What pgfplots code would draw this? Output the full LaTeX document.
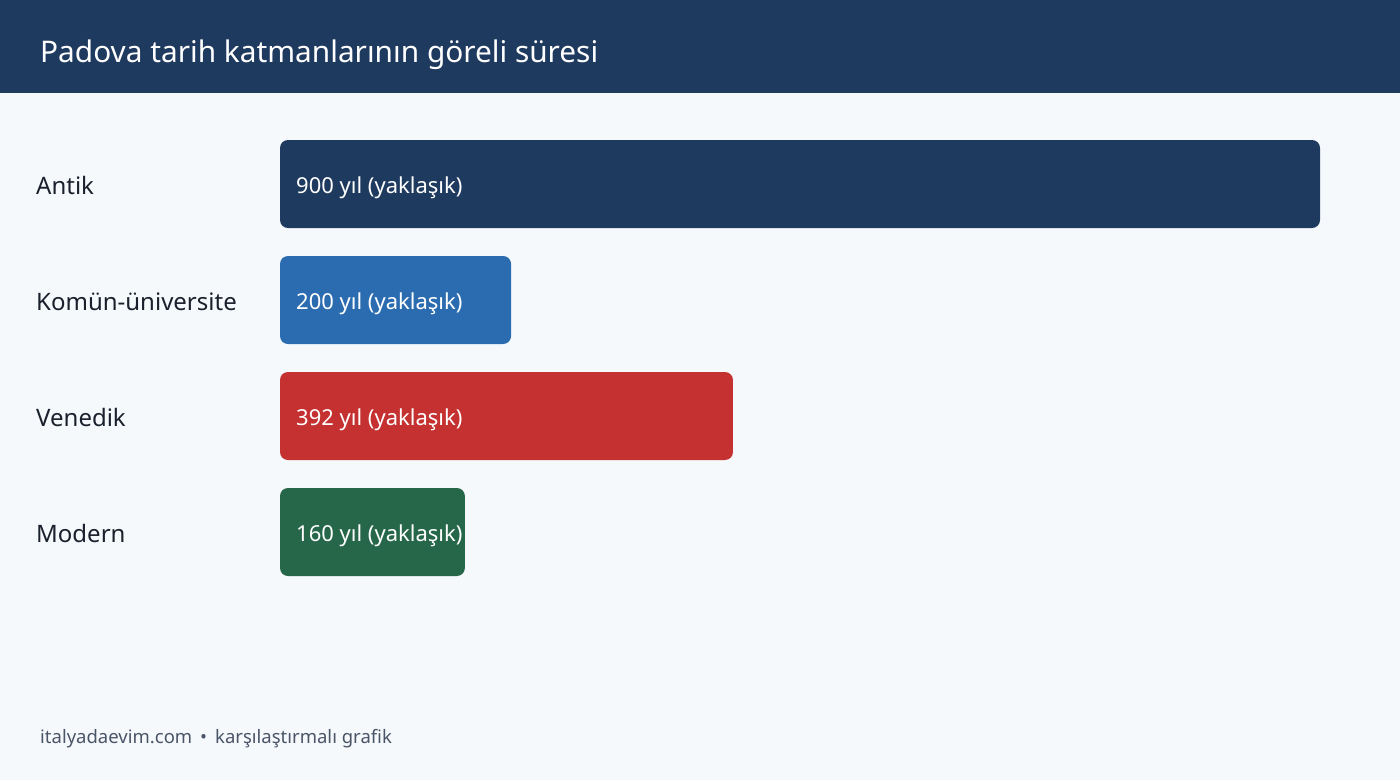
\documentclass[border=0pt]{standalone}
\usepackage{pgfplots}
\pgfplotsset{compat=1.18}
\usepackage{fontspec}
\setmainfont{Noto Sans}
\definecolor{navy}{HTML}{1F3A5F}
\definecolor{bgc}{HTML}{F5F9FC}
\definecolor{barblue}{HTML}{2B6CB0}
\definecolor{barred}{HTML}{C53030}
\definecolor{bargreen}{HTML}{276749}
\definecolor{txt}{HTML}{1A202C}
\definecolor{foot}{HTML}{4A5568}
\begin{document}
\begin{tikzpicture}[lbl/.style = {anchor = base west, inner sep = 0pt, yshift = -9pt}]
% page background and header band
\fill[bgc] (0pt,0pt) rectangle (1400pt,780pt);
\fill[navy] (0pt,687pt) rectangle (1400pt,780pt);
\node[anchor=base west, inner sep=0pt, text=white, font=\fontsize{29.8}{36}\selectfont]
  at (40pt,717pt) {Padova tarih katmanlarının göreli süresi};
\begin{axis}[
	at = {(280pt,190pt)},
	anchor = south west,
	width = 1040pt,
	height = 464pt,
	scale only axis,
	xmin = 0,
	xmax = 900,
	ymin = -0.5,
	ymax = 3.5,
	y dir = reverse,
	hide axis,
	clip = false,
	xbar,
	bar width = 88pt,
	bar shift = 0pt,
	every axis plot/.append style = {draw = none, rounded corners = 8pt},
]
\addplot[fill = navy] coordinates {(900, 0)};
\addplot[fill = barblue] coordinates {(200, 1)};
\addplot[fill = barred] coordinates {(392, 2)};
\addplot[fill = bargreen] coordinates {(160, 3)};
% values inside the bars
\node[lbl, text = white, font = \fontsize{22}{26}\selectfont, xshift = 16pt] at (axis cs:0,0) {900 yıl (yaklaşık)};
\node[lbl, text = white, font = \fontsize{22}{26}\selectfont, xshift = 16pt] at (axis cs:0,1) {200 yıl (yaklaşık)};
\node[lbl, text = white, font = \fontsize{22}{26}\selectfont, xshift = 16pt] at (axis cs:0,2) {392 yıl (yaklaşık)};
\node[lbl, text = white, font = \fontsize{22}{26}\selectfont, xshift = 16pt] at (axis cs:0,3) {160 yıl (yaklaşık)};
% category names
\node[lbl, text = txt, font = \fontsize{24}{29}\selectfont, xshift = -244pt, yshift = -1.5pt] at (axis cs:0,0) {Antik};
\node[lbl, text = txt, font = \fontsize{24}{29}\selectfont, xshift = -244pt, yshift = -1.5pt] at (axis cs:0,1) {Komün-üniversite};
\node[lbl, text = txt, font = \fontsize{24}{29}\selectfont, xshift = -244pt, yshift = -1.5pt] at (axis cs:0,2) {Venedik};
\node[lbl, text = txt, font = \fontsize{24}{29}\selectfont, xshift = -244pt, yshift = -1.5pt] at (axis cs:0,3) {Modern};
\end{axis}
\node[anchor=base west, inner sep=0pt, text=foot, font=\fontsize{18.5}{23}\selectfont]
  at (40pt,37pt) {italyadaevim.com\hspace{8pt}•\hspace{8pt}karşılaştırmalı grafik};
\end{tikzpicture}
\end{document}
